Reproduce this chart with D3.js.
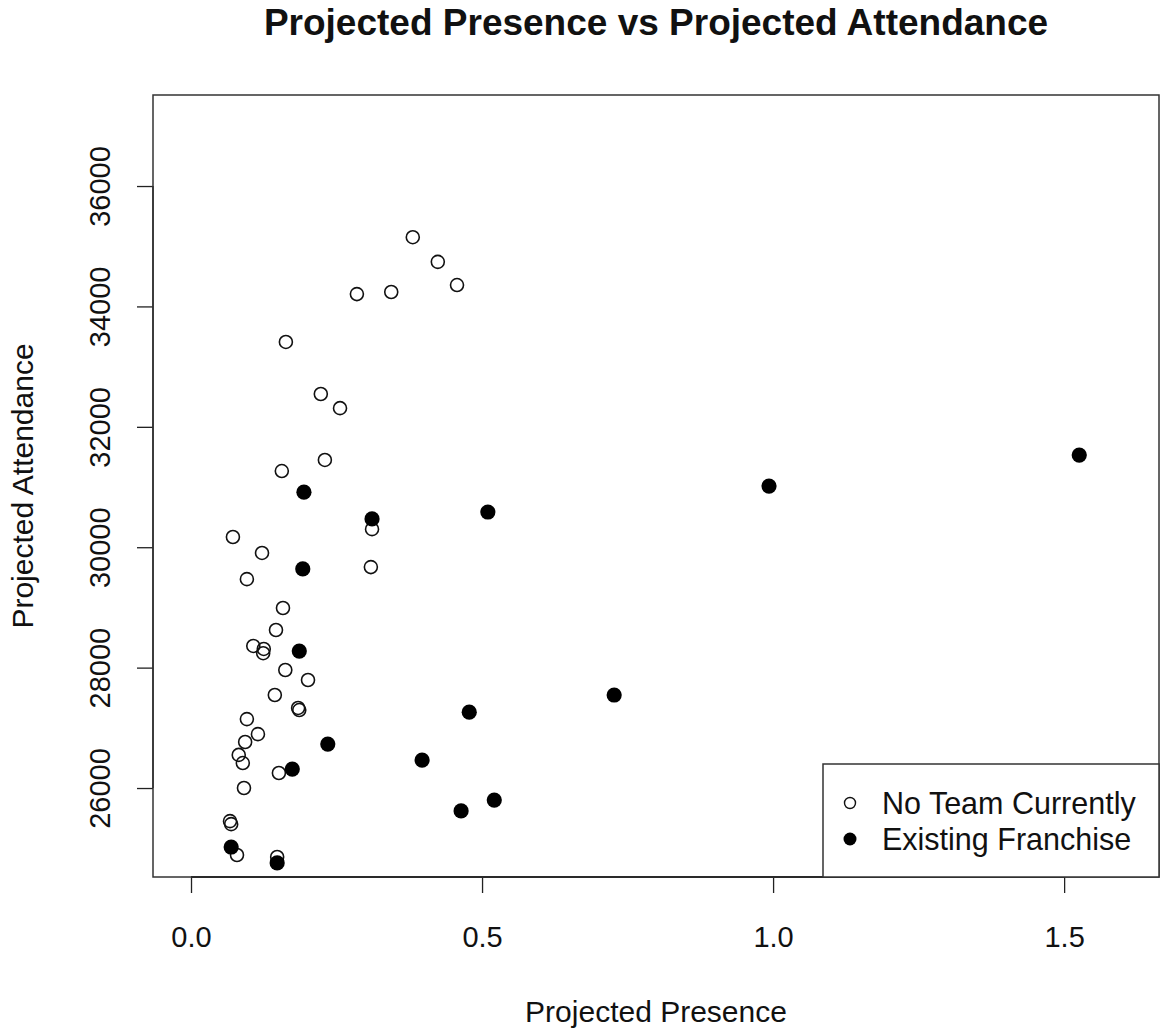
<!DOCTYPE html>
<html lang="en">
<head>
    <meta charset="UTF-8">
    <title>Projected Presence vs Projected Attendance</title>
    <script src="https://d3js.org/d3.v7.min.js"></script>
    <style>
        body { margin: 0; background: white; }
        text { font-family: "Liberation Sans", Arial, sans-serif; fill: #111; }
    </style>
</head>
<body>
<svg width="1161" height="1030"></svg>
<script>
    // No Team Currently (open circles)
    let noTeamPresence = [0.381, 0.424, 0.457, 0.285, 0.344, 0.163, 0.223, 0.256, 0.230, 0.156,
        0.311, 0.072, 0.122, 0.096, 0.309, 0.158, 0.146, 0.107, 0.125, 0.124,
        0.162, 0.201, 0.144, 0.184, 0.186, 0.096, 0.115, 0.093, 0.082, 0.089,
        0.151, 0.091, 0.067, 0.069, 0.079, 0.148];
    let noTeamAttendance = [35150, 34740, 34355, 34205, 34240, 33410, 32545, 32310, 31450, 31265,
        30300, 30170, 29905, 29470, 29670, 28990, 28625, 28360, 28310, 28240,
        27960, 27795, 27545, 27330, 27295, 27145, 26895, 26765, 26550, 26415,
        26250, 26000, 25450, 25400, 24887, 24855];

    // Existing Franchise (filled circles)
    let franchisePresence = [0.194, 0.311, 0.510, 0.993, 1.526, 0.192, 0.186, 0.727, 0.478, 0.235,
        0.174, 0.397, 0.521, 0.464, 0.069, 0.148];
    let franchiseAttendance = [30915, 30470, 30585, 31015, 31530, 29640, 28275, 27545, 27260, 26730,
        26315, 26465, 25800, 25620, 25020, 24755];

    let xTicks = [0.0, 0.5, 1.0, 1.5];
    let yTicks = [26000, 28000, 30000, 32000, 34000, 36000];
    let legendLabels = ["No Team Currently", "Existing Franchise"];

    let svg = d3.select("svg");
    let plotLeft = 153, plotRight = 1159, plotTop = 95, plotBottom = 877;

    let x = d3.scaleLinear().domain([-0.0653, 1.663]).range([plotLeft, plotRight]);
    let y = d3.scaleLinear().domain([24522, 37512]).range([plotBottom, plotTop]);

    svg.append("text")
        .attr("x", (plotLeft + plotRight) / 2)
        .attr("y", 35)
        .attr("text-anchor", "middle")
        .style("font-size", "37px")
        .style("font-weight", "bold")
        .text("Projected Presence vs Projected Attendance");

    // x axis
    let xAxis = svg.append("g")
        .attr("transform", "translate(0," + plotBottom + ")")
        .call(d3.axisBottom(x).tickValues(xTicks).tickSize(16).tickFormat(d3.format(".1f")));
    xAxis.select(".domain").remove();
    xAxis.selectAll("line").attr("stroke", "#222").attr("stroke-width", 1.3);
    xAxis.selectAll("text")
        .attr("y", 70)
        .attr("dy", null)
        .style("font-size", "29px");
    svg.append("line")
        .attr("x1", x(xTicks[0])).attr("x2", x(xTicks[xTicks.length - 1]))
        .attr("y1", plotBottom).attr("y2", plotBottom)
        .attr("stroke", "#111").attr("stroke-width", 2.2);

    // y axis
    let yAxis = svg.append("g")
        .attr("transform", "translate(" + plotLeft + ",0)")
        .call(d3.axisLeft(y).tickValues(yTicks).tickSize(16).tickFormat(d3.format("d")));
    yAxis.select(".domain").remove();
    yAxis.selectAll("line").attr("stroke", "#222").attr("stroke-width", 1.3);
    yAxis.selectAll(".tick text")
        .attr("x", null).attr("dy", null)
        .attr("text-anchor", "middle")
        .attr("transform", "translate(-43,0) rotate(-90)")
        .style("font-size", "29px");
    svg.append("line")
        .attr("x1", plotLeft).attr("x2", plotLeft)
        .attr("y1", y(yTicks[0])).attr("y2", y(yTicks[yTicks.length - 1]))
        .attr("stroke", "#222").attr("stroke-width", 1.5);

    // plot box
    svg.append("rect")
        .attr("x", plotLeft).attr("y", plotTop)
        .attr("width", plotRight - plotLeft).attr("height", plotBottom - plotTop)
        .attr("fill", "none").attr("stroke", "#333").attr("stroke-width", 1.5);

    svg.append("text")
        .attr("x", (plotLeft + plotRight) / 2)
        .attr("y", 1022)
        .attr("text-anchor", "middle")
        .style("font-size", "30px")
        .text("Projected Presence");

    svg.append("text")
        .attr("transform", "translate(33," + ((plotTop + plotBottom) / 2) + ") rotate(-90)")
        .attr("text-anchor", "middle")
        .style("font-size", "30px")
        .text("Projected Attendance");

    let noTeam = noTeamPresence.map((d, i) => ({x: d, y: noTeamAttendance[i]}));
    let franchise = franchisePresence.map((d, i) => ({x: d, y: franchiseAttendance[i]}));

    svg.append("g").selectAll("circle")
        .data(noTeam)
        .join("circle")
        .attr("cx", d => x(d.x))
        .attr("cy", d => y(d.y))
        .attr("r", 6.5)
        .attr("fill", "none")
        .attr("stroke", "#111")
        .attr("stroke-width", 1.6);

    svg.append("g").selectAll("circle")
        .data(franchise)
        .join("circle")
        .attr("cx", d => x(d.x))
        .attr("cy", d => y(d.y))
        .attr("r", 7.6)
        .attr("fill", "#000");

    // legend
    let legend = svg.append("g");
    legend.append("rect")
        .attr("x", 823).attr("y", 764)
        .attr("width", plotRight - 823).attr("height", plotBottom - 764)
        .attr("fill", "white").attr("stroke", "#333").attr("stroke-width", 1.5);
    let items = legend.selectAll("g.item")
        .data(legendLabels)
        .join("g")
        .attr("class", "item")
        .attr("transform", (d, i) => "translate(850," + (803 + i * 36) + ")");
    items.append("circle")
        .attr("r", (d, i) => i === 0 ? 5.5 : 6.5)
        .attr("fill", (d, i) => i === 0 ? "none" : "#000")
        .attr("stroke", (d, i) => i === 0 ? "#111" : "none")
        .attr("stroke-width", 1.4);
    items.append("text")
        .attr("x", 32)
        .attr("y", 11)
        .style("font-size", "30.5px")
        .text(d => d);
</script>
</body>
</html>
